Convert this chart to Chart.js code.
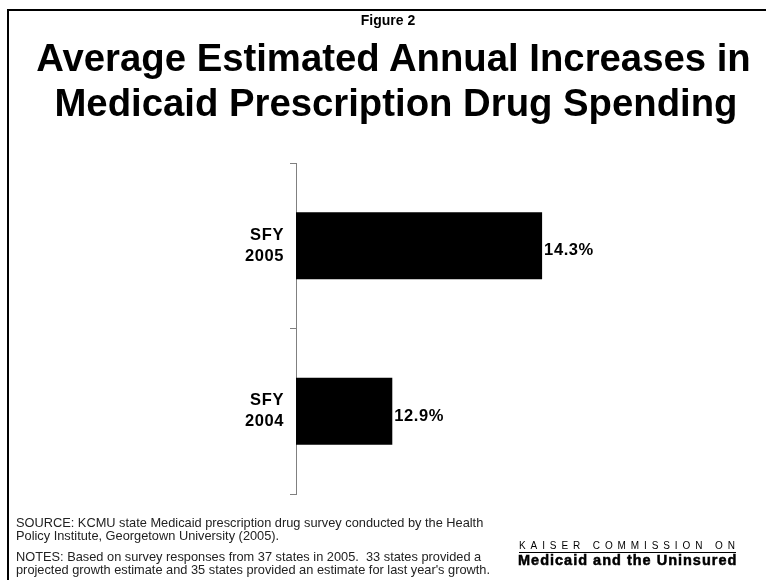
<!DOCTYPE html>
<html>
<head>
<meta charset="utf-8">
<script src="https://cdn.jsdelivr.net/npm/chart.js@4.4.1/dist/chart.umd.min.js"></script>
<style>
  html, body { margin: 0; padding: 0; background: #fff; }
  #wrap { position: relative; width: 766px; height: 580px; overflow: hidden; font-family: "Liberation Sans", Arial, sans-serif; }
  #frameTop { position: absolute; left: 7px; top: 9px; width: 759px; height: 2px; background: #000; }
  #frameLeft { position: absolute; left: 7px; top: 9px; width: 2px; height: 571px; background: #000; }
  canvas { position: absolute; left: 0; top: 0; }
  .t { position: absolute; white-space: nowrap; color: #000; }
  #fig { left: 0; width: 776px; text-align: center; top: 13px; font-size: 14px; font-weight: bold; line-height: 14px; }
  #title1 { left: 0; width: 787px; text-align: center; top: 36px; font-size: 38.3px; font-weight: bold; line-height: 44px; }
  #title2 { left: 0; width: 792px; text-align: center; top: 81px; font-size: 38.3px; font-weight: bold; line-height: 44px; }
  .note { left: 16px; font-size: 12.8px; color: #222; line-height: 13px; }
  #kcmu1 { left: 519px; top: 541px; width: 217px; font-size: 10px; letter-spacing: 4.9px; line-height: 10px; border-bottom: 1px solid #000; padding-bottom: 1px; }
  #kcmu2 { left: 518px; top: 552px; font-size: 14.5px; font-weight: bold; letter-spacing: 1px; line-height: 16px; -webkit-text-stroke: 0.5px #000; }
</style>
</head>
<body>
<div id="wrap">
  <canvas id="c" width="766" height="580"></canvas>
  <div id="frameTop"></div>
  <div id="frameLeft"></div>
  <div class="t" id="fig">Figure 2</div>
  <div class="t" id="title1">Average Estimated Annual Increases in</div>
  <div class="t" id="title2">Medicaid Prescription Drug Spending</div>
  <div class="t note" style="top:516px">SOURCE: KCMU state Medicaid prescription drug survey conducted by the Health</div>
  <div class="t note" style="top:529px">Policy Institute, Georgetown University (2005).</div>
  <div class="t note" style="top:550px">NOTES: Based on survey responses from 37 states in 2005.&nbsp; 33 states provided a</div>
  <div class="t note" style="top:563px">projected growth estimate and 35 states provided an estimate for last year's growth.</div>
  <div class="t" id="kcmu1">KAISER COMMISSION ON</div>
  <div class="t" id="kcmu2">Medicaid and the Uninsured</div>
</div>
<script>
// Average estimated annual growth in Medicaid prescription drug spending, by state fiscal year
const categories = [["SFY", "2005"], ["SFY", "2004"]];
const growthPct = [14.3, 12.9];
const valueLabels = ["14.3%", "12.9%"];
const axisMin = 12;
const axisMax = 16;

// Writes the percentage just past the end of each bar
const barValueLabels = {
  id: "barValueLabels",
  afterDatasetsDraw(chart) {
    const ctx = chart.ctx;
    const meta = chart.getDatasetMeta(0);
    ctx.save();
    ctx.font = "bold 16.5px 'Liberation Sans', Arial, sans-serif";
    ctx.letterSpacing = "0.6px";
    ctx.fillStyle = "#000";
    ctx.textAlign = "left";
    ctx.textBaseline = "alphabetic";
    meta.data.forEach((bar, i) => {
      ctx.fillText(valueLabels[i], bar.x + 2, bar.y + 9.5);
    });
    ctx.restore();
  }
};

// Slightly wider letter spacing for the category labels on the left axis
const spacedTicks = {
  id: "spacedTicks",
  beforeDraw(chart) { chart.ctx.letterSpacing = "0.6px"; },
  afterDraw(chart) { chart.ctx.letterSpacing = "0px"; }
};

new Chart(document.getElementById("c"), {
  type: "bar",
  data: {
    labels: categories,
    datasets: [{
      data: growthPct,
      backgroundColor: "#000",
      borderWidth: 0,
      categoryPercentage: 1,
      barPercentage: 0.405
    }]
  },
  options: {
    indexAxis: "y",
    responsive: false,
    animation: false,
    events: [],
    layout: { padding: { top: 163, right: 42, bottom: 86, left: 0 } },
    plugins: { legend: { display: false }, tooltip: { enabled: false }, title: { display: false } },
    scales: {
      x: { display: false, min: axisMin, max: axisMax },
      y: {
        type: "category",
        offset: true,
        afterFit(scale) { scale.width = 296; },
        grid: { offset: true, drawOnChartArea: false, drawTicks: true, tickLength: 6, color: "#808080", lineWidth: 1 },
        border: { display: true, color: "#808080", width: 1 },
        ticks: {
          color: "#000",
          padding: 6,
          font: { family: "'Liberation Sans', Arial, sans-serif", size: 16.5, weight: "bold", lineHeight: "21px" }
        }
      }
    }
  },
  plugins: [barValueLabels, spacedTicks]
});
</script>
</body>
</html>
